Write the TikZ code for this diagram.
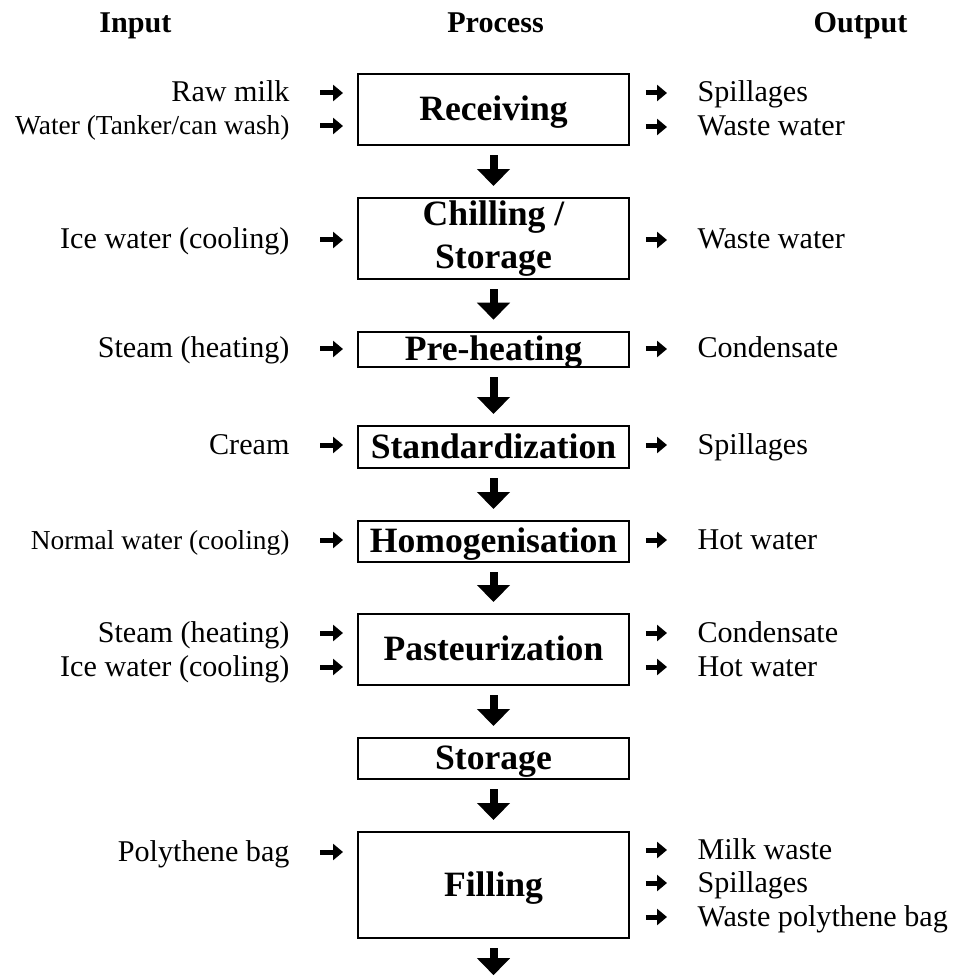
\documentclass[tikz,border=0pt]{standalone}
\usepackage{fontspec}
\setmainfont{Liberation Serif}
\usetikzlibrary{arrows.meta,calc}
\newcommand{\inarr}[2]{%
  \coordinate (#1a) at ($(#1.base east)+(0,-9)$);
  \draw[harr, shorten <=10.95pt, shorten >=5.11pt] (#1a) -- (#1a -| #2.west);}
\newcommand{\outarr}[2]{%
  \coordinate (#1a) at ($(#1.base west)+(0,-9)$);
  \draw[harr, shorten <=5.84pt, shorten >=10.95pt] (#1a -| #2.east) -- (#1a);}
\begin{document}
\begin{tikzpicture}[x=0.365pt,y=-0.365pt,
  box/.style={draw, line width=0.73pt, minimum width=98.9pt, inner sep=0pt,
    font=\fontsize{13pt}{15.7pt}\selectfont\bfseries},
  one/.style={box, text height=10.53pt, text depth=2.47pt},
  lab/.style={inner sep=0pt, anchor=base east, font=\fontsize{11pt}{13pt}\selectfont},
  slab/.style={lab, font=\fontsize{10pt}{12pt}\selectfont},
  rlab/.style={inner sep=0pt, anchor=base west, font=\fontsize{11pt}{13pt}\selectfont},
  head/.style={inner sep=0pt, anchor=base, font=\fontsize{11pt}{13pt}\selectfont\bfseries},
  harr/.style={line width=1.825pt, -{Triangle[width=5.84pt,length=3.65pt]}},
  varr/.style={line width=2.92pt, -{Triangle[width=11.68pt,length=6.2pt]},
    shorten <=3.3pt, shorten >=4pt},
]
\path[use as bounding box] (0,0) rectangle (953,976);

% headers
\node[head] (hin) at (135.5,33) {Input};
\node[head] (hpr) at (495.5,33) {Process};
\node[head] (hout) at (860.5,33) {Output};

% process boxes
\node[one, minimum height=25.92pt] (rec) at (493.5,109.5) {Receiving};
\node[box, minimum height=29.57pt, align=center] (chl) at (493.5,238.5) {Chilling /\\Storage};
\node[one, minimum height=12.78pt] (pre) at (493.5,349.5) {Pre-heating};
\node[one, minimum height=15.33pt] (std) at (493.5,447) {Standardization};
\node[one, minimum height=14.97pt] (hom) at (493.5,541.5) {Homogenisation};
\node[one, minimum height=25.92pt] (pas) at (493.5,649.5) {Pasteurization};
\node[one, minimum height=14.97pt] (sto) at (493.5,758.5) {Storage};
\node[one, minimum height=38.69pt] (fil) at (493.5,885) {Filling};
\coordinate (end) at (493.5,976);

% down arrows
\draw[varr] (rec) -- (chl);
\draw[varr] (chl) -- (pre);
\draw[varr] (pre) -- (std);
\draw[varr] (std) -- (hom);
\draw[varr] (hom) -- (pas);
\draw[varr] (pas) -- (sto);
\draw[varr] (sto) -- (fil);
\draw[varr, shorten >=0.3pt] (fil) -- (end);

% inputs
\node[lab]  (i1) at (290,102) {Raw milk};
\node[slab] (i2) at (290,135) {Water (Tanker/can wash)};
\node[lab]  (i3) at (290,249) {Ice water (cooling)};
\node[lab]  (i4) at (290,358) {Steam (heating)};
\node[lab]  (i5) at (290,454) {Cream};
\node[slab] (i6) at (290,549) {Normal water (cooling)};
\node[lab]  (i7) at (290,642) {Steam (heating)};
\node[lab]  (i8) at (290,676) {Ice water (cooling)};
\node[lab]  (i9) at (290,861) {Polythene bag};

\inarr{i1}{rec}
\inarr{i2}{rec}
\inarr{i3}{chl}
\inarr{i4}{pre}
\inarr{i5}{std}
\inarr{i6}{hom}
\inarr{i7}{pas}
\inarr{i8}{pas}
\inarr{i9}{fil}

% outputs
\node[rlab] (o1) at (697,102) {Spillages};
\node[rlab] (o2) at (697,136) {Waste water};
\node[rlab] (o3) at (697,249) {Waste water};
\node[rlab] (o4) at (697,358) {Condensate};
\node[rlab] (o5) at (697,454) {Spillages};
\node[rlab] (o6) at (697,549) {Hot water};
\node[rlab] (o7) at (697,642) {Condensate};
\node[rlab] (o8) at (697,676) {Hot water};
\node[rlab] (o9) at (697,859) {Milk waste};
\node[rlab] (o10) at (697,892) {Spillages};
\node[rlab] (o11) at (697,926) {Waste polythene bag};

\outarr{o1}{rec}
\outarr{o2}{rec}
\outarr{o3}{chl}
\outarr{o4}{pre}
\outarr{o5}{std}
\outarr{o6}{hom}
\outarr{o7}{pas}
\outarr{o8}{pas}
\outarr{o9}{fil}
\outarr{o10}{fil}
\outarr{o11}{fil}
\end{tikzpicture}
\end{document}
